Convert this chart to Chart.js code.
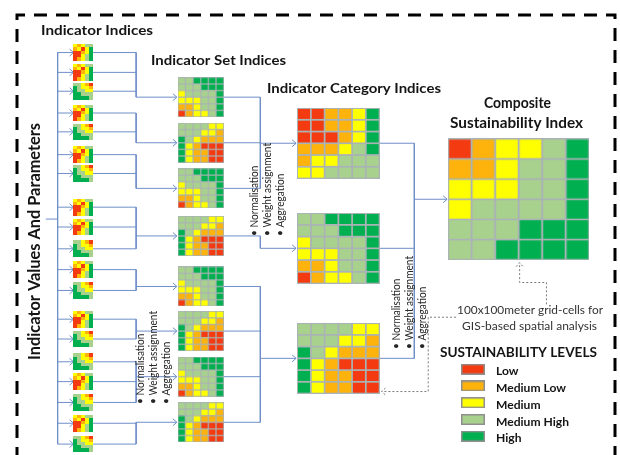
<!DOCTYPE html>
<html><head><meta charset="utf-8">
<script src="https://cdn.jsdelivr.net/npm/chart.js@4.4.1/dist/chart.umd.min.js"></script>
<style>html,body{margin:0;padding:0;background:#fff;}canvas{display:block;}</style>
</head><body>
<canvas id="c" width="620" height="455"></canvas>
<script>
// ---------------- DATA ----------------
// Sustainability levels: 0 Low, 1 Medium Low, 2 Medium, 3 Medium High, 4 High
const levelLabels = ['Low', 'Medium Low', 'Medium', 'Medium High', 'High'];

const compositeIndex = [
  [0,1,2,2,3,4],
  [1,1,2,3,3,4],
  [2,2,2,3,3,4],
  [2,3,3,3,3,4],
  [3,3,3,4,4,4],
  [3,3,4,4,4,4]
];
const categoryIndexA = [
  [0,0,1,1,2,4],
  [0,0,1,1,2,4],
  [0,0,0,1,2,4],
  [1,1,1,2,3,4],
  [1,2,2,3,3,3],
  [2,2,3,3,3,3]
];
const categoryIndexB = [
  [3,3,4,4,4,4],
  [3,3,3,4,4,4],
  [2,3,3,3,3,4],
  [2,2,2,3,3,4],
  [1,1,2,3,3,4],
  [0,1,2,2,3,4]
];
const categoryIndexC = [
  [3,3,3,3,2,2],
  [3,3,3,2,2,1],
  [4,3,2,1,1,1],
  [4,2,1,0,0,0],
  [4,2,1,1,0,0],
  [4,2,1,1,0,0]
];
const setIndexA = [
  [3,3,4,4,4,4],
  [3,3,3,4,4,4],
  [2,3,3,3,3,4],
  [2,2,2,3,3,4],
  [1,1,2,3,3,4],
  [0,1,2,2,3,4]
];
const setIndexB = [
  [3,3,3,3,2,2],
  [3,3,3,2,2,1],
  [4,3,2,1,1,1],
  [4,2,1,0,0,0],
  [4,2,1,1,0,0],
  [4,2,1,1,0,0]
];
const setIndexOrder = ['A','B','A','B','A','B','A','B'];

const indicatorIndexP = [
  [2,1,2,3,3],
  [1,2,0,2,4],
  [0,0,1,2,4],
  [0,0,2,3,4],
  [0,1,2,3,4]
];
const indicatorIndexQ = [
  [3,3,2,1,0],
  [4,3,2,2,1],
  [4,3,3,2,2],
  [4,4,3,3,3],
  [4,4,4,4,3]
];
const indicatorOrder = ['P','P','Q','P','Q','P','Q','P','P','Q','P','Q','P','Q','Q','P','Q','P','Q'];

const stageTitles = ['Indicator Indices', 'Indicator Set Indices', 'Indicator Category Indices', 'Composite', 'Sustainability Index'];
const sideTitle = 'Indicator Values And Parameters';
const processSteps = ['Normalisation', 'Weight assignment', 'Aggregation'];
const gridNote = ['100x100meter grid-cells for', 'GIS-based spatial analysis'];
const legendTitle = 'SUSTAINABILITY LEVELS';

// ---------------- STYLE / LAYOUT ----------------
const levelColors = ['#f33a10', '#fdb20c', '#ffff00', '#a9d18e', '#00b050'];
const gapColor = '#aab3b5';
const lineColor = '#6f8fc8';
const FONT = 'Lato, "Open Sans", sans-serif';

const L = {
  iconX: 72, iconW: 19, iconH: 16,
  iconTops: [43,63,82,104,123,146,165,199,219,241,262,283,312,332,355,375,396,417,438],
  iconGroups: [[0,1,2],[3,4],[5,6],[7,8,9],[10,11],[12,13],[14,15,16],[17,18]],
  trunkX: 56, bracketX: 135,
  setX: 177, setW: 46, setH: 40,
  setTops: [76,122,168,216,267,312,358,404],
  setGroups: [[0,1,2],[3],[4,5,6,7]],
  joinX: 260,
  catX: 297, catW: 83, catH: 71, catTops: [107,213,324],
  mergeX: 415,
  compX: 449, compY: 138, compW: 142, compH: 122,
  legX: 462, legW: 24, legH: 11, legY0: 370.5, legDy: 16.9
};

// ---------------- HELPERS ----------------
const imgCache = {};
function cellImage(w, h, color, gap, border) {
  const key = [w,h,color,gap,border].join('|');
  if (imgCache[key]) return imgCache[key];
  const cv = document.createElement('canvas');
  cv.width = w; cv.height = h;
  const g = cv.getContext('2d');
  g.fillStyle = border; g.fillRect(0,0,w,h);
  g.fillStyle = color; g.fillRect(gap, gap, w-2*gap, h-2*gap);
  imgCache[key] = cv;
  return cv;
}
function gridDataset(matrix, x0, y0, w, h, gap) {
  const rows = matrix.length, cols = matrix[0].length;
  const pw = w / cols, ph = h / rows;
  const iw = Math.ceil(pw), ih = Math.ceil(ph);
  const data = [], styles = [];
  matrix.forEach((row, r) => row.forEach((lvl, c) => {
    data.push({x: x0 + (c + 0.5) * pw, y: y0 + (r + 0.5) * ph});
    styles.push(cellImage(iw, ih, levelColors[lvl], gap, gapColor));
  }));
  return {data, pointStyle: styles, pointRadius: 1, pointHoverRadius: 1, showLine: false, order: 1};
}
const lineSets = [];
function poly(pts, dashed) {
  lineSets.push({
    data: pts.map(p => ({x: p[0], y: p[1]})),
    showLine: true, borderColor: dashed ? '#7a7a7a' : lineColor, borderWidth: 1,
    borderDash: dashed ? [2,2] : [], pointRadius: 0, pointHoverRadius: 0, tension: 0, fill: false, order: 2
  });
}
function arrowRight(x, y, dashed) { poly([[x-4, y-3.5],[x, y],[x-4, y+3.5]], dashed); }
function arrowLeft(x, y, dashed) { poly([[x+4, y-3.5],[x, y],[x+4, y+3.5]], dashed); }
function arrowUp(x, y, dashed) { poly([[x-3.5, y+4],[x, y],[x+3.5, y+4]], dashed); }

// ---------------- CONNECTORS ----------------
const iconLineY = L.iconTops.map(t => t + L.iconH / 2);
const setCY = L.setTops.map(t => t + L.setH / 2);
const catCY = L.catTops.map(t => t + L.catH / 2);
const compCY = L.compY + L.compH / 2;

poly([[L.trunkX, iconLineY[0]], [L.trunkX, iconLineY[iconLineY.length-1]]]);
poly([[44, 219], [L.trunkX, 219]]);
iconLineY.forEach(y => {
  poly([[L.trunkX, y], [L.iconX, y]]); arrowRight(L.iconX, y);
  poly([[L.iconX + L.iconW, y], [L.bracketX, y]]);
});
L.iconGroups.forEach((grp, s) => {
  const ys = grp.map(i => iconLineY[i]).concat([setCY[s]]);
  poly([[L.bracketX, Math.min(...ys)], [L.bracketX, Math.max(...ys)]]);
  poly([[L.bracketX, setCY[s]], [L.setX - 1, setCY[s]]]); arrowRight(L.setX - 1, setCY[s]);
});
L.setGroups.forEach((grp, k) => {
  grp.forEach(s => poly([[L.setX + L.setW, setCY[s]], [L.joinX, setCY[s]]]));
  const ys = grp.map(s => setCY[s]).concat([catCY[k]]);
  poly([[L.joinX, Math.min(...ys)], [L.joinX, Math.max(...ys)]]);
  poly([[L.joinX, catCY[k]], [L.catX - 1, catCY[k]]]); arrowRight(L.catX - 1, catCY[k]);
  poly([[L.catX + L.catW, catCY[k]], [L.mergeX, catCY[k]]]);
});
poly([[L.mergeX, catCY[0]], [L.mergeX, catCY[2]]]);
poly([[L.mergeX, compCY], [L.compX - 1, compCY]]); arrowRight(L.compX - 1, compCY);
// dotted callouts
poly([[548, 305], [548, 283], [521, 283], [521, 263]], true); arrowUp(521, 263, true);
poly([[457, 318], [429, 318], [429, 393], [382, 393]], true); arrowLeft(382, 393, true);

// ---------------- GRIDS ----------------
const gridSets = [];
indicatorOrder.forEach((t, i) => {
  gridSets.push(gridDataset(t === 'P' ? indicatorIndexP : indicatorIndexQ, L.iconX, L.iconTops[i], L.iconW, L.iconH, 0));
});
setIndexOrder.forEach((t, i) => {
  gridSets.push(gridDataset(t === 'A' ? setIndexA : setIndexB, L.setX, L.setTops[i], L.setW, L.setH, 0.75));
});
[categoryIndexA, categoryIndexB, categoryIndexC].forEach((m, k) => {
  gridSets.push(gridDataset(m, L.catX, L.catTops[k], L.catW, L.catH, 1));
});
gridSets.push(gridDataset(compositeIndex, L.compX, L.compY, L.compW, L.compH, 1.25));
// legend swatches
gridSets.push({
  data: levelLabels.map((_, i) => ({x: L.legX + L.legW / 2, y: L.legY0 + i * L.legDy})),
  pointStyle: levelLabels.map((_, i) => cellImage(L.legW, L.legH, levelColors[i], 1.5, '#8f8f8f')),
  pointRadius: 1, pointHoverRadius: 1, showLine: false, order: 1
});

// ---------------- TEXT / FRAME PLUGIN ----------------
function drawFit(ctx, str, x, y, w, font, opts) {
  opts = opts || {};
  ctx.save();
  ctx.font = font;
  ctx.fillStyle = opts.color || '#141414';
  ctx.textBaseline = opts.baseline || 'alphabetic';
  ctx.textAlign = 'left';
  const m = ctx.measureText(str).width;
  const s = opts.scale || (w ? w / m : 1);
  ctx.translate(x, y);
  if (opts.rot) ctx.rotate(opts.rot);
  ctx.scale(s, 1);
  ctx.fillText(str, 0, 0);
  ctx.restore();
}
function scaleFor(ctx, str, w, font) { ctx.save(); ctx.font = font; const m = ctx.measureText(str).width; ctx.restore(); return w / m; }

const framePlugin = {
  id: 'frame',
  beforeDatasetsDraw(chart) {
    const ctx = chart.ctx;
    ctx.save();
    ctx.strokeStyle = '#000'; ctx.lineWidth = 3; ctx.setLineDash([13, 9]);
    ctx.beginPath();
    ctx.moveTo(17, 460); ctx.lineTo(17, 15); ctx.lineTo(615, 15); ctx.lineTo(615, 460);
    ctx.stroke();
    ctx.restore();
  },
  afterDatasetsDraw(chart) {
    const ctx = chart.ctx;
    const B = 'bold 14px ' + FONT;
    drawFit(ctx, stageTitles[0], 41, 35, 112, B);
    drawFit(ctx, stageTitles[1], 151, 65, 135, B);
    drawFit(ctx, stageTitles[2], 267, 93, 174, B);
    drawFit(ctx, stageTitles[3], 484, 108, 67, 'bold 15px ' + FONT);
    drawFit(ctx, stageTitles[4], 450, 128, 133, 'bold 15px ' + FONT);
    drawFit(ctx, sideTitle, 40, 360, 237, 'bold 17px ' + FONT, {rot: -Math.PI / 2});

    const R = '11px ' + FONT;
    const bullets = processSteps.map(s => '\u2022 ' + s);
    const sc = scaleFor(ctx, bullets[1], 93, R);
    [[236, [254, 267, 280]], [404, [140, 153, 166]], [349, [396, 409, 422]]].forEach(([y0, xs]) => {
      bullets.forEach((b, i) => drawFit(ctx, b, xs[i], y0, 0, R, {rot: -Math.PI / 2, baseline: 'middle', scale: sc, color: '#262626'}));
    });

    const N = '12px ' + FONT;
    drawFit(ctx, gridNote[0], 457, 310, 146, N, {baseline: 'middle', color: '#333'});
    drawFit(ctx, gridNote[1], 462, 326, 135, N, {baseline: 'middle', color: '#333'});
    drawFit(ctx, legendTitle, 440, 352, 157, 'bold 14px ' + FONT, {baseline: 'middle'});
    const LB = 'bold 12px ' + FONT;
    const ls = scaleFor(ctx, levelLabels[3], 73, LB);
    levelLabels.forEach((lab, i) => drawFit(ctx, lab, 496, L.legY0 + i * L.legDy + 0.5, 0, LB, {baseline: 'middle', scale: ls}));
  }
};

new Chart(document.getElementById('c'), {
  type: 'scatter',
  data: {datasets: lineSets.concat(gridSets)},
  options: {
    responsive: false, animation: false, events: [],
    layout: {padding: 0},
    plugins: {legend: {display: false}, tooltip: {enabled: false}},
    scales: {
      x: {type: 'linear', min: 0, max: 620, display: false},
      y: {type: 'linear', min: 0, max: 455, reverse: true, display: false}
    }
  },
  plugins: [framePlugin]
});
</script>
</body></html>
